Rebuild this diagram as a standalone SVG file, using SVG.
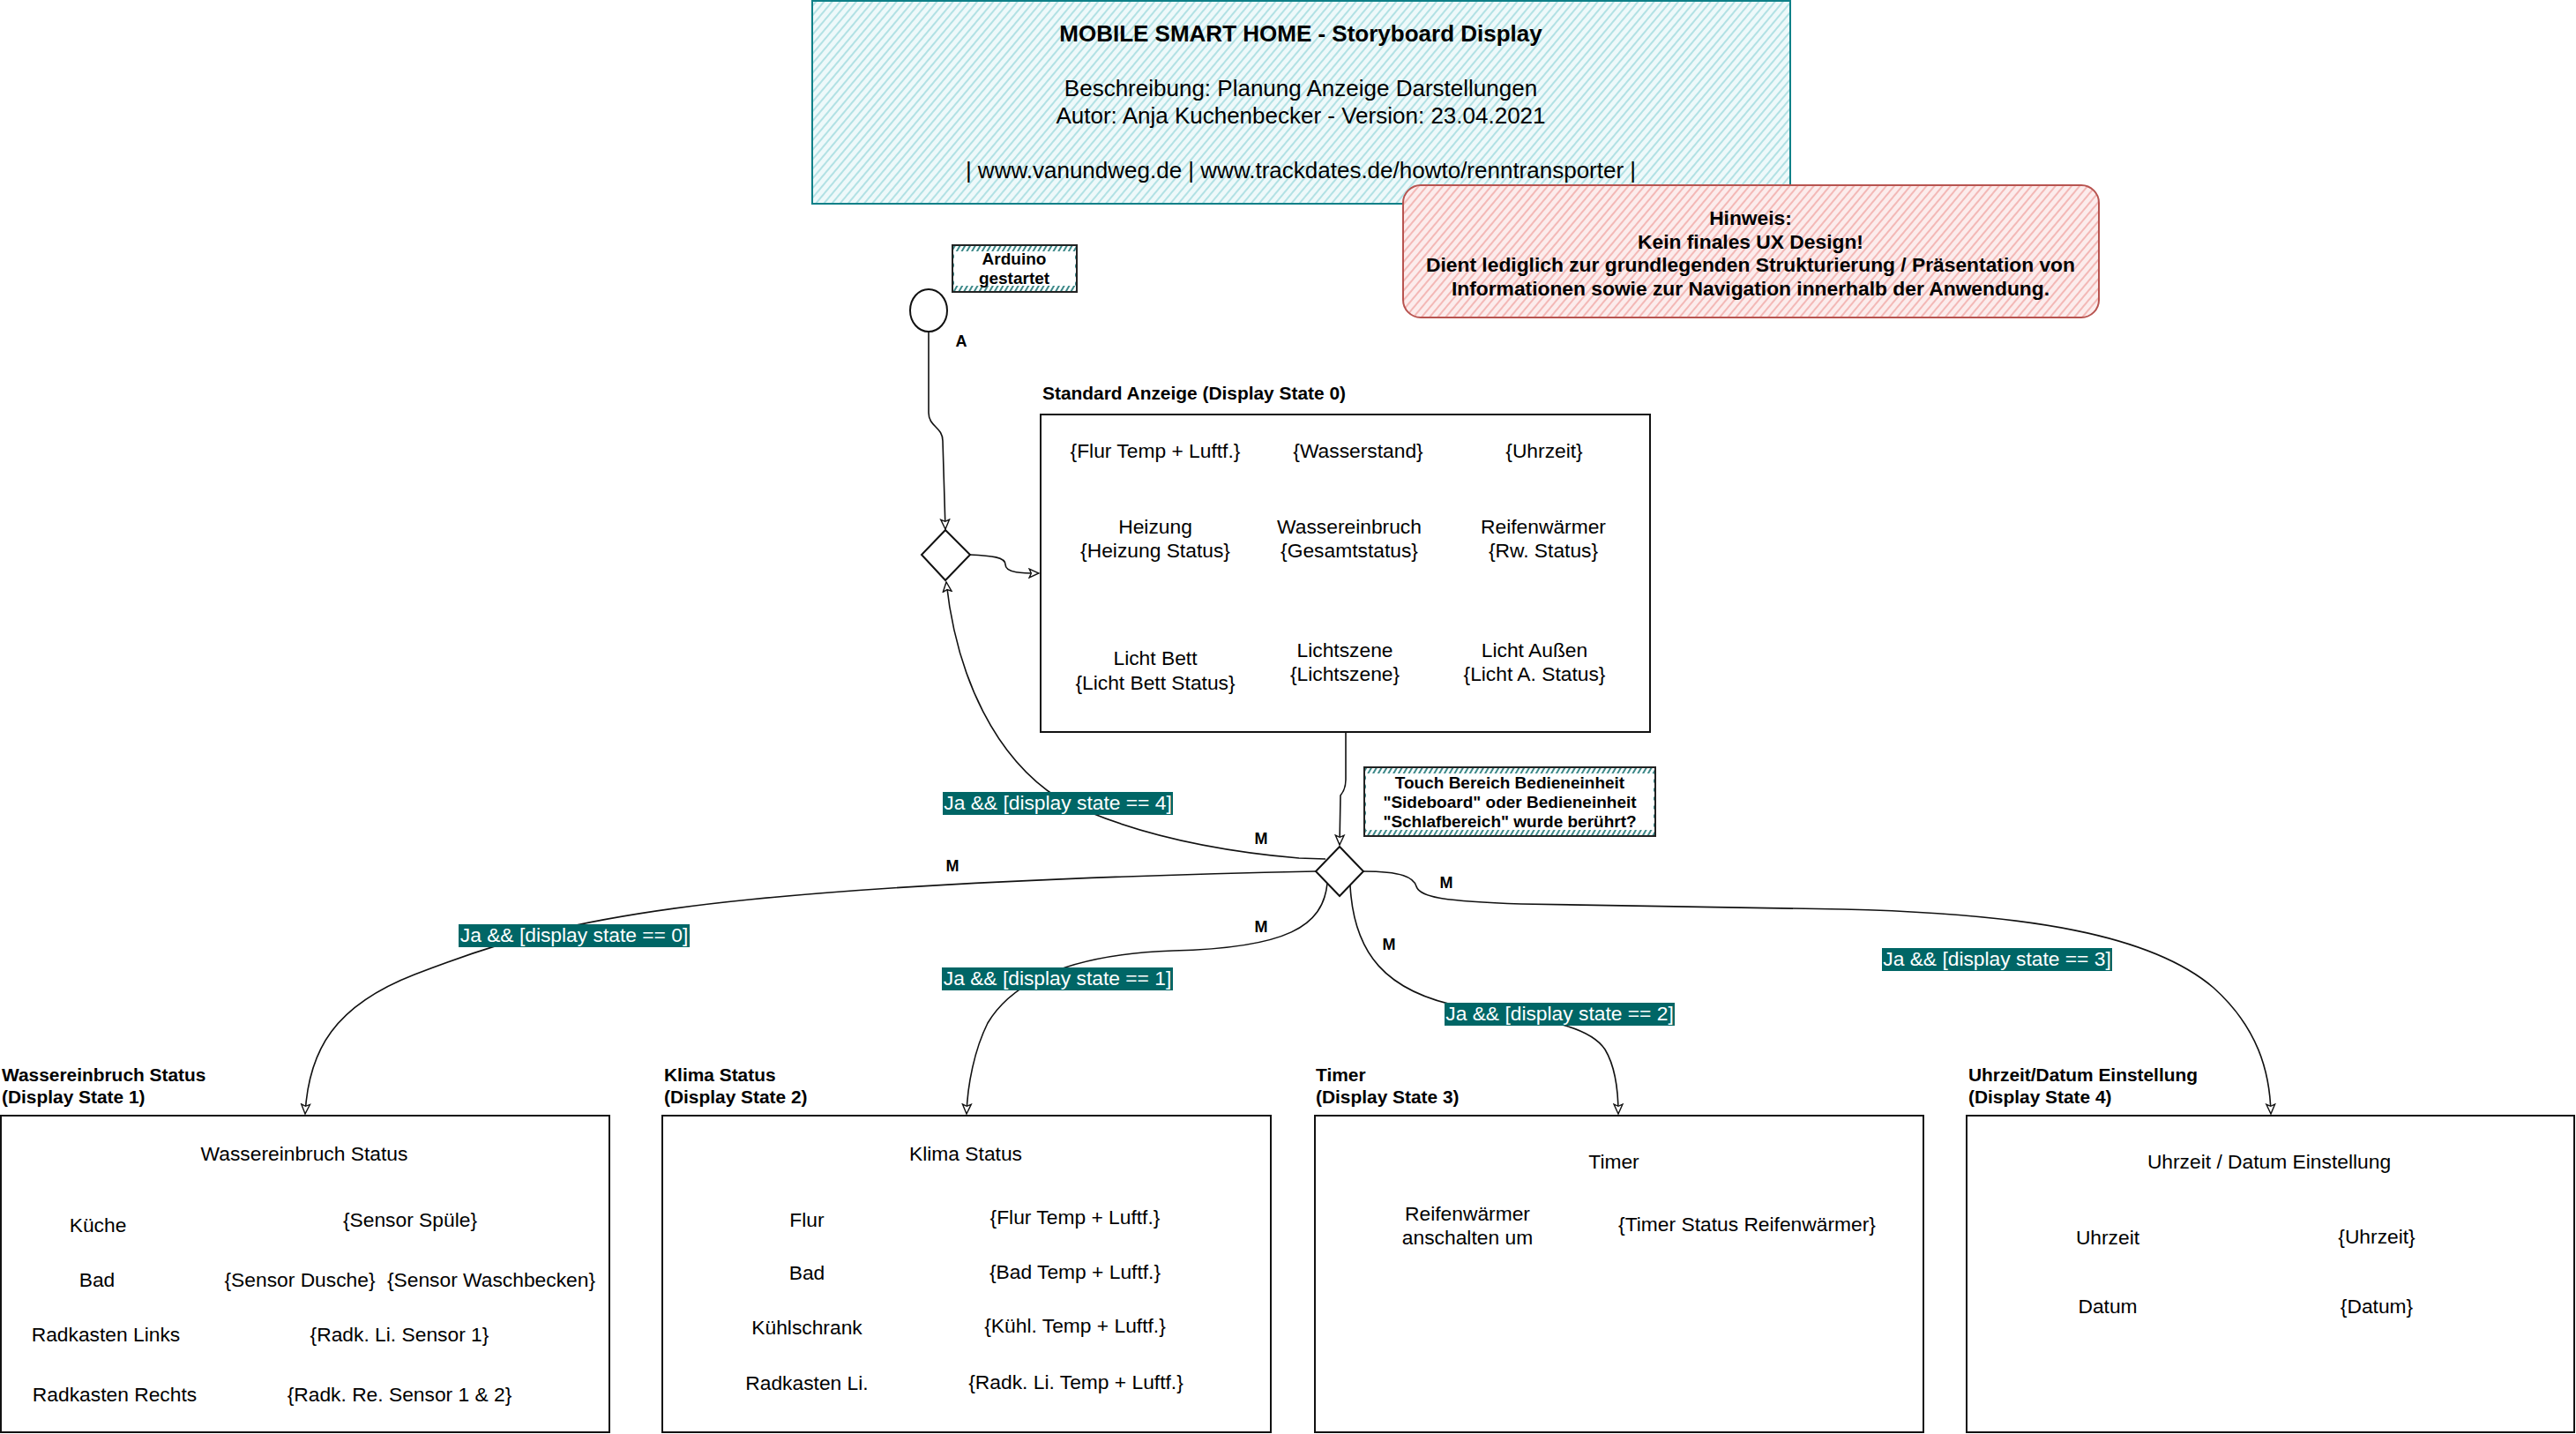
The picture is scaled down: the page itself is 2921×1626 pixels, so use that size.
<svg xmlns="http://www.w3.org/2000/svg" width="2921" height="1626" viewBox="0 0 2921 1626">
<style>
text{font-family:"Liberation Sans",Arial,Helvetica,sans-serif;fill:#000}
.t{font-size:22.8px}
.tm{font-size:22.8px;text-anchor:middle}
.b{font-weight:bold}
.h{font-size:20.9px;font-weight:bold}
.sm{font-size:19px;font-weight:bold;text-anchor:middle}
.m{font-size:18px;font-weight:bold;text-anchor:middle}
.hd{font-size:26px;text-anchor:middle}
.lbl{font-size:22.8px;text-anchor:middle;fill:#fff}
.lblbg{fill:#006666}
.box{fill:#fff;stroke:#111;stroke-width:2}
.shape{fill:#fff;stroke:#111;stroke-width:2}
.edge{fill:none;stroke:#111;stroke-width:1.6;marker-end:url(#arr)}
</style>
<defs>
<pattern id="hCyan" patternUnits="userSpaceOnUse" width="7" height="7" patternTransform="rotate(40)">
<rect width="7" height="7" fill="#eef9fa"/>
<line x1="3" y1="0" x2="3" y2="7" stroke="#abdfe2" stroke-width="1.8"/>
</pattern>
<pattern id="hRed" patternUnits="userSpaceOnUse" width="7" height="7" patternTransform="rotate(40)">
<rect width="7" height="7" fill="#fcecec"/>
<line x1="3" y1="0" x2="3" y2="7" stroke="#f3b8b6" stroke-width="2"/>
</pattern>
<pattern id="hTeal" patternUnits="userSpaceOnUse" width="5" height="5" patternTransform="rotate(30)">
<rect width="5" height="5" fill="#fff"/>
<line x1="2" y1="0" x2="2" y2="5" stroke="#0b6b6b" stroke-width="1.6"/>
</pattern>
<marker id="arr" viewBox="0 0 12 12" refX="11" refY="6" markerWidth="13" markerHeight="13" markerUnits="userSpaceOnUse" orient="auto">
<path d="M1,1.5 L11,6 L1,10.5 L3,6 z" fill="#fff" stroke="#111" stroke-width="1.3"/>
</marker>
</defs>
<rect width="2921" height="1626" fill="#fff"/>

<g id="header">
<rect x="921" y="1" width="1109" height="230" fill="url(#hCyan)" stroke="#0e8088" stroke-width="2"/>
<text class="hd b" x="1475" y="47">MOBILE SMART HOME - Storyboard Display</text>
<text class="hd" x="1475" y="109">Beschreibung: Planung Anzeige Darstellungen</text>
<text class="hd" x="1475" y="140">Autor: Anja Kuchenbecker - Version: 23.04.2021</text>
<text class="hd" x="1475" y="202">| www.vanundweg.de | www.trackdates.de/howto/renntransporter |</text>
</g>

<g id="hinweis">
<rect x="1591" y="210" width="789" height="150" rx="20" ry="20" fill="url(#hRed)" stroke="#b85450" stroke-width="2"/>
<text class="tm b" x="1985" y="255">Hinweis:</text>
<text class="tm b" x="1985" y="282">Kein finales UX Design!</text>
<text class="tm b" x="1985" y="308">Dient lediglich zur grundlegenden Strukturierung / Präsentation von</text>
<text class="tm b" x="1985" y="335">Informationen sowie zur Navigation innerhalb der Anwendung.</text>
</g>

<g id="connectors">
<path id="e-start" class="edge" d="M1053,376 L1053,468 C1053,484 1069,484 1069,500 L1072,600"/>
<path id="e-d1-std" class="edge" d="M1100,629 C1125,630 1140,632 1140,640 C1140,650 1160,650 1178,650"/>
<path id="e-std-d2" class="edge" d="M1526,830 L1526,884 Q1526,895 1520,902 L1519,958"/>
<path id="e-d2-d1" class="edge" d="M1503,974 L1473,973 C1380,965 1280,945 1200,905 C1130,860 1085,770 1073,660"/>
<path id="e-d2-b1" class="edge" d="M1492,988 C1300,992 1050,1000 850,1020 S560,1070 470,1105 S350,1190 346,1263"/>
<path id="e-d2-b2" class="edge" d="M1505,1002 C1500,1050 1460,1075 1330,1078 C1220,1082 1150,1110 1120,1160 C1105,1190 1097,1230 1096,1263"/>
<path id="e-d2-b3" class="edge" d="M1531,1004 C1535,1080 1570,1125 1660,1142 C1740,1155 1800,1160 1820,1190 C1832,1210 1835,1240 1835,1263"/>
<path id="e-d2-b4" class="edge" d="M1546,988 C1590,988 1603,995 1606,1005 C1610,1018 1640,1022 1725,1025 L2090,1031 C2300,1036 2440,1060 2510,1120 C2560,1165 2574,1215 2575,1263"/>
<text class="m b" x="1090" y="393">A</text>
<text class="m" x="1430" y="957">M</text>
<text class="m" x="1080" y="988">M</text>
<text class="m" x="1430" y="1057">M</text>
<text class="m" x="1575" y="1077">M</text>
<text class="m" x="1640" y="1007">M</text>
<rect class="lblbg" x="1069" y="898" width="261" height="26"/>
<text class="lbl" x="1199.5" y="918">Ja &amp;&amp; [display state == 4]</text>
<rect class="lblbg" x="520" y="1048" width="262" height="26"/>
<text class="lbl" x="651" y="1068">Ja &amp;&amp; [display state == 0]</text>
<rect class="lblbg" x="1068" y="1097" width="262" height="26"/>
<text class="lbl" x="1199" y="1117">Ja &amp;&amp; [display state == 1]</text>
<rect class="lblbg" x="1638" y="1137" width="261" height="26"/>
<text class="lbl" x="1768.5" y="1157">Ja &amp;&amp; [display state == 2]</text>
<rect class="lblbg" x="2134" y="1075" width="261" height="26"/>
<text class="lbl" x="2264.5" y="1095">Ja &amp;&amp; [display state == 3]</text>
</g>

<g id="note-arduino">
<rect x="1080" y="278" width="141" height="53" fill="url(#hTeal)"/>
<rect x="1082" y="285" width="137" height="39" fill="#fff"/>
<rect x="1080" y="278" width="141" height="53" fill="none" stroke="#222" stroke-width="2"/>
<text class="sm" x="1150" y="300">Arduino</text>
<text class="sm" x="1150" y="322">gestartet</text>
</g>

<g id="start">
<ellipse cx="1053" cy="352" rx="21" ry="24" class="shape"/>
</g>

<g id="decision1">
<polygon points="1072,601 1100,629 1072,658 1045,629" class="shape"/>
</g>

<g id="standard">
<text class="h" x="1182" y="453">Standard Anzeige (Display State 0)</text>
<rect class="box" x="1180" y="470" width="691" height="360"/>
<text class="tm" x="1310" y="519">{Flur Temp + Luftf.}</text>
<text class="tm" x="1540" y="519">{Wasserstand}</text>
<text class="tm" x="1751" y="519">{Uhrzeit}</text>
<text class="tm" x="1310" y="605">Heizung</text>
<text class="tm" x="1310" y="632">{Heizung Status}</text>
<text class="tm" x="1530" y="605">Wassereinbruch</text>
<text class="tm" x="1530" y="632">{Gesamtstatus}</text>
<text class="tm" x="1750" y="605">Reifenwärmer</text>
<text class="tm" x="1750" y="632">{Rw. Status}</text>
<text class="tm" x="1310" y="754">Licht Bett</text>
<text class="tm" x="1310" y="782">{Licht Bett Status}</text>
<text class="tm" x="1525" y="745">Lichtszene</text>
<text class="tm" x="1525" y="772">{Lichtszene}</text>
<text class="tm" x="1740" y="745">Licht Außen</text>
<text class="tm" x="1740" y="772">{Licht A. Status}</text>
</g>

<g id="note-touch">
<rect x="1547" y="870" width="330" height="78" fill="url(#hTeal)"/>
<rect x="1549" y="877" width="326" height="64" fill="#fff"/>
<rect x="1547" y="870" width="330" height="78" fill="none" stroke="#222" stroke-width="2"/>
<text class="sm" x="1712" y="894">Touch Bereich Bedieneinheit</text>
<text class="sm" x="1712" y="916">"Sideboard" oder Bedieneinheit</text>
<text class="sm" x="1712" y="938">"Schlafbereich" wurde berührt?</text>
</g>

<g id="decision2">
<polygon points="1519,960 1546,988 1519,1016 1492,988" class="shape"/>
</g>

<g id="state1">
<text class="h" x="2" y="1226">Wassereinbruch Status</text>
<text class="h" x="2" y="1251">(Display State 1)</text>
<rect class="box" x="1" y="1265" width="690" height="359"/>
<text class="tm" x="345" y="1316">Wassereinbruch Status</text>
<text class="tm" x="111" y="1397">Küche</text>
<text class="tm" x="465" y="1391">{Sensor Spüle}</text>
<text class="tm" x="110" y="1459">Bad</text>
<text class="tm" x="340" y="1459">{Sensor Dusche}</text>
<text class="tm" x="557" y="1459">{Sensor Waschbecken}</text>
<text class="tm" x="120" y="1521">Radkasten Links</text>
<text class="tm" x="453" y="1521">{Radk. Li. Sensor 1}</text>
<text class="tm" x="130" y="1589">Radkasten Rechts</text>
<text class="tm" x="453" y="1589">{Radk. Re. Sensor 1 &amp; 2}</text>
</g>

<g id="state2">
<text class="h" x="753" y="1226">Klima Status</text>
<text class="h" x="753" y="1251">(Display State 2)</text>
<rect class="box" x="751" y="1265" width="690" height="359"/>
<text class="tm" x="1095" y="1316">Klima Status</text>
<text class="tm" x="915" y="1391">Flur</text>
<text class="tm" x="1219" y="1388">{Flur Temp + Luftf.}</text>
<text class="tm" x="915" y="1451">Bad</text>
<text class="tm" x="1219" y="1450">{Bad Temp + Luftf.}</text>
<text class="tm" x="915" y="1513">Kühlschrank</text>
<text class="tm" x="1219" y="1511">{Kühl. Temp + Luftf.}</text>
<text class="tm" x="915" y="1576">Radkasten Li.</text>
<text class="tm" x="1220" y="1575">{Radk. Li. Temp + Luftf.}</text>
</g>

<g id="state3">
<text class="h" x="1492" y="1226">Timer</text>
<text class="h" x="1492" y="1251">(Display State 3)</text>
<rect class="box" x="1491" y="1265" width="690" height="359"/>
<text class="tm" x="1830" y="1325">Timer</text>
<text class="tm" x="1664" y="1384">Reifenwärmer</text>
<text class="tm" x="1664" y="1411">anschalten um</text>
<text class="tm" x="1981" y="1396">{Timer Status Reifenwärmer}</text>
</g>

<g id="state4">
<text class="h" x="2232" y="1226">Uhrzeit/Datum Einstellung</text>
<text class="h" x="2232" y="1251">(Display State 4)</text>
<rect class="box" x="2230" y="1265" width="689" height="359"/>
<text class="tm" x="2573" y="1325">Uhrzeit / Datum Einstellung</text>
<text class="tm" x="2390" y="1411">Uhrzeit</text>
<text class="tm" x="2695" y="1410">{Uhrzeit}</text>
<text class="tm" x="2390" y="1489">Datum</text>
<text class="tm" x="2695" y="1489">{Datum}</text>
</g>
</svg>
